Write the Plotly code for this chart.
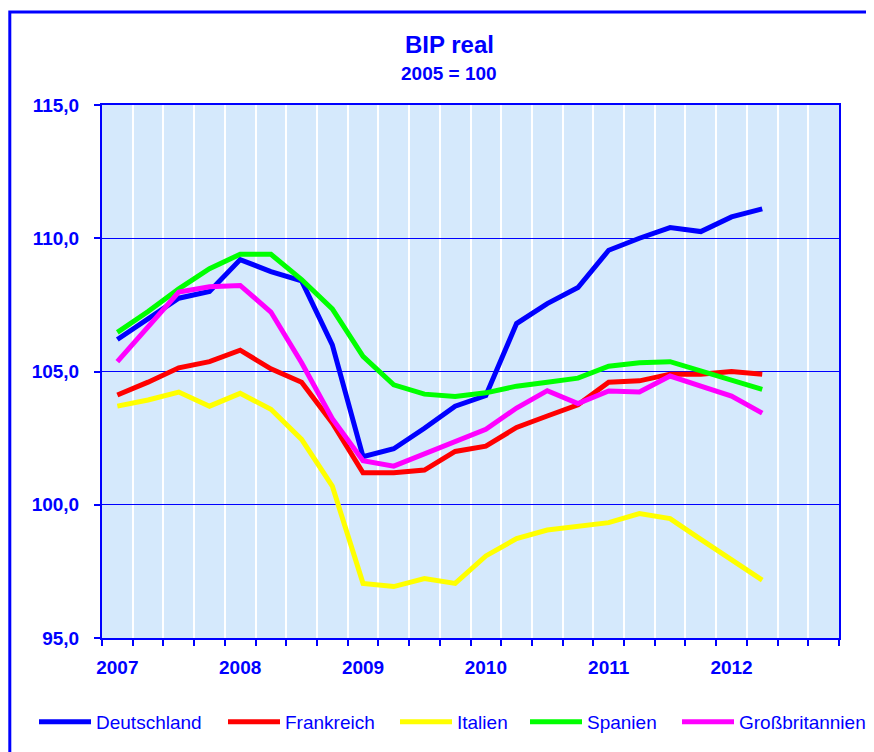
import plotly.graph_objects as go

quarters = [f"{y}Q{q}" for y in range(2007, 2013) for q in range(1, 5)][:22]
year_labels = ["2007", "2008", "2009", "2010", "2011", "2012"]

deutschland = [106.2, 107.0, 107.75, 108.0, 109.2, 108.75, 108.4, 106.0, 101.8, 102.1, 102.87,
               103.7, 104.1, 106.8, 107.55, 108.15, 109.55, 110.0, 110.4, 110.25, 110.8, 111.1]
frankreich = [104.12, 104.6, 105.14, 105.37, 105.8, 105.1, 104.6, 103.07, 101.2, 101.2, 101.3,
              102.0, 102.2, 102.9, 103.33, 103.75, 104.6, 104.65, 104.9, 104.9, 105.0, 104.9]
italien = [103.7, 103.93, 104.23, 103.7, 104.18, 103.58, 102.45, 100.7, 97.05, 96.93, 97.23,
           97.05, 98.08, 98.73, 99.05, 99.2, 99.33, 99.67, 99.48, 98.7, 97.95, 97.17]
spanien = [106.47, 107.25, 108.1, 108.86, 109.4, 109.4, 108.45, 107.35, 105.57, 104.5, 104.15,
           104.06, 104.2, 104.45, 104.6, 104.75, 105.2, 105.33, 105.37, 105.03, 104.7, 104.33]
grossbritannien = [105.37, 106.7, 107.98, 108.18, 108.23, 107.23, 105.33, 103.23, 101.65, 101.45, 101.9,
                   102.4, 102.83, 103.63, 104.28, 103.8, 104.27, 104.23, 104.83, 104.45, 104.08, 103.44]

series_names = ["Deutschland", "Frankreich", "Italien", "Spanien", "Großbritannien"]
series_values = [deutschland, frankreich, italien, spanien, grossbritannien]
series_colors = ["#0000FF", "#FF0000", "#FFFF00", "#00FF00", "#FF00FF"]
# page x where each legend text begins
legend_text_x = [98, 287, 459, 589, 741]

BLUE = "#0000FF"
FONT = "Liberation Sans, Arial, sans-serif"
x_idx = list(range(len(quarters)))

# plot area in page pixels: left 102, right 839, top 105, bottom 638
PL, PR, PT, PB = 102, 839, 105, 638
PW, PH = PR - PL, PB - PT
ITEMW = 52

def px(xp):
    return (xp - PL) / PW

def py(yp):
    return (PB - yp) / PH

fig = go.Figure()
legend_layouts = {}
for i, (name, vals, col) in enumerate(zip(series_names, series_values, series_colors)):
    lname = "legend" if i == 0 else f"legend{i + 1}"
    fig.add_trace(go.Scatter(x=x_idx, y=vals, name=name, mode="lines",
                             line=dict(color=col, width=5),
                             hovertext=quarters, legend=lname))
    legend_layouts[lname] = dict(
        orientation="h", x=px(legend_text_x[i] - (ITEMW + 12)), xanchor="left",
        y=py(722), yanchor="middle", itemwidth=ITEMW,
        font=dict(family=FONT, size=19, color=BLUE), bgcolor="rgba(0,0,0,0)")

fig.update_layout(
    width=866, height=744,
    margin=dict(l=94, r=35, t=97, b=114, autoexpand=False),
    paper_bgcolor="white",
    plot_bgcolor="#d5e9fc",
    separators=",.",
    showlegend=True,
    annotations=[
        dict(text="<b>BIP real</b>", xref="paper", yref="paper", x=px(449), y=py(45),
             showarrow=False, xanchor="center", yanchor="middle",
             font=dict(family=FONT, size=24, color=BLUE)),
        dict(text="<b>2005 = 100</b>", xref="paper", yref="paper", x=px(449), y=py(73),
             showarrow=False, xanchor="center", yanchor="middle",
             font=dict(family=FONT, size=19, color=BLUE)),
    ],
    shapes=[
        dict(type="rect", xref="paper", yref="paper", x0=px(9.8), x1=1.3, y0=-0.5, y1=py(12),
             line=dict(color=BLUE, width=3), fillcolor="rgba(0,0,0,0)", layer="above"),
    ],
    **legend_layouts,
)

fig.update_xaxes(
    range=[-0.5, 23.5],
    tickvals=[0, 4, 8, 12, 16, 20], ticktext=year_labels,
    ticks="", showgrid=False, zeroline=False,
    showline=True, linecolor=BLUE, linewidth=2, mirror=True,
    tickfont=dict(family=FONT, size=19, color=BLUE, weight="bold"),
    ticklabelstandoff=11,
    minor=dict(tick0=-0.5, dtick=1, ticks="outside", ticklen=6, tickcolor=BLUE, tickwidth=1.5,
               showgrid=True, gridcolor="white", gridwidth=1.5),
)
fig.update_yaxes(
    range=[95, 115], tickvals=[95, 100, 105, 110, 115], tickformat=".1f",
    ticks="outside", ticklen=6, tickcolor=BLUE, tickwidth=1.5,
    showgrid=True, gridcolor=BLUE, gridwidth=1, zeroline=False,
    showline=True, linecolor=BLUE, linewidth=2, mirror=True,
    tickfont=dict(family=FONT, size=19, color=BLUE, weight="bold"),
    ticklabelstandoff=11,
)

fig.write_html("out.html")
